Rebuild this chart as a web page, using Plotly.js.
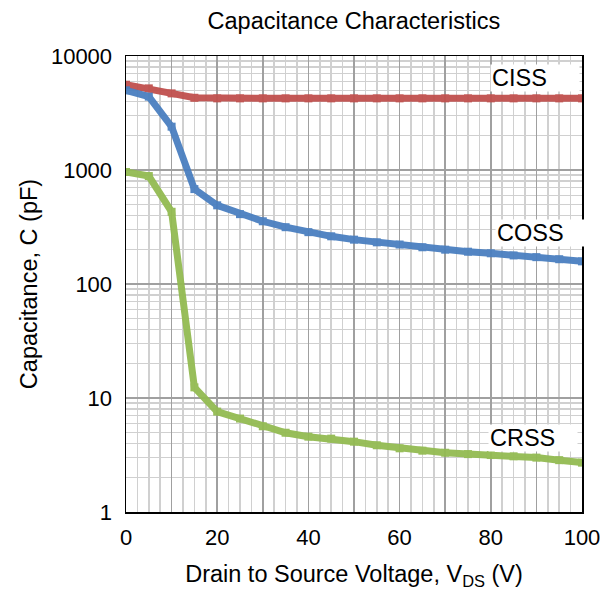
<!DOCTYPE html>
<html><head><meta charset="utf-8">
<script src="https://cdn.plot.ly/plotly-3.0.1.min.js"></script>
<style>html,body{margin:0;padding:0;background:#fff}#chart{width:608px;height:592px}</style>
</head><body><div id="chart"></div>
<script>
const vds  = [0,5,10,15,20,25,30,35,40,45,50,55,60,65,70,75,80,85,90,95,100];
const ciss = [5600,5200,4700,4300,4250,4250,4250,4250,4250,4250,4250,4250,4250,4250,4250,4250,4250,4250,4250,4250,4250];
const coss = [5000,4400,2400,680,490,410,355,315,285,262,245,232,222,210,200,192,186,178,172,165,158];
const crss = [960,885,430,12.4,7.6,6.6,5.65,4.96,4.58,4.4,4.14,3.85,3.62,3.45,3.31,3.22,3.16,3.08,3.0,2.85,2.71];
const xTickVals = [0,20,40,60,80,100];
const xTickText = ['0','20','40','60','80','100'];
const xGridVals = [0,10,20,30,40,50,60,70,80,90,100];
const yTickVals = [1,10,100,1000,10000];
const yTickText = ['1','10','100','1000','10000'];
const labels = ['CISS','COSS','CRSS'];
const labelX = [89.6,90.8,89.3];
const labelY = [6475,283,4.46];

const font = 'Liberation Sans, Arial, sans-serif';
function tr(y,color){
  return {x:vds,y:y,mode:'lines+markers',type:'scatter',
    line:{color:color,width:7},marker:{symbol:'square',size:8,color:color},opacity:0.95,hoverinfo:'skip'};
}
const data=[
  {x:[],y:[],xaxis:'x2',yaxis:'y',mode:'lines',hoverinfo:'skip'},
  tr(ciss,'#c0504d'),tr(coss,'#4a7fc0'),tr(crss,'#93bb52')];
const layout={
  width:608,height:592,showlegend:false,
  margin:{l:126,r:26,t:56,b:80},
  paper_bgcolor:'#fff',plot_bgcolor:'#fff',
  font:{family:font,color:'#000',size:22},
  title:{text:'Capacitance Characteristics',x:0.582,xanchor:'center',y:0.965,yanchor:'middle',font:{size:23.5,family:font}},
  xaxis:{range:[0,100],tickvals:xTickVals,ticktext:xTickText,showgrid:true,gridcolor:'#a0a0a0',gridwidth:1.5,
    minor:{dtick:2.5,showgrid:true,gridcolor:'#d0d0d0',gridwidth:1.5},
    showline:true,linecolor:'#000',linewidth:1.5,mirror:true,zeroline:false,ticks:'',
    tickfont:{size:22},ticklabelstandoff:5,
    title:{text:'Drain to Source Voltage, V<sub>DS</sub> (V)',font:{size:23.5},standoff:16}},
  xaxis2:{range:[0,100],overlaying:'x',tickvals:xGridVals,showticklabels:false,showgrid:true,gridcolor:'#a0a0a0',gridwidth:1.5,
    showline:false,zeroline:false,ticks:''},
  yaxis:{type:'log',range:[0,4],tickvals:yTickVals,ticktext:yTickText,showgrid:true,gridcolor:'#a0a0a0',gridwidth:1.5,
    minor:{dtick:'D1',showgrid:true,gridcolor:'#d0d0d0',gridwidth:1.5},
    showline:true,linecolor:'#000',linewidth:1.5,mirror:true,zeroline:false,ticks:'',
    tickfont:{size:22},ticklabelstandoff:8,
    title:{text:'Capacitance, C (pF)',font:{size:23.5},standoff:6}},
  annotations:labels.map((t,i)=>({x:labelX[i],y:Math.log10(labelY[i]),xref:'x',yref:'y',text:t,showarrow:false,
    bgcolor:'#fff',width:86,height:24,align:'left',borderpad:1,font:{size:23.5,family:font}}))
};
Plotly.newPlot('chart',data,layout,{displayModeBar:false,staticPlot:true});
</script></body></html>
